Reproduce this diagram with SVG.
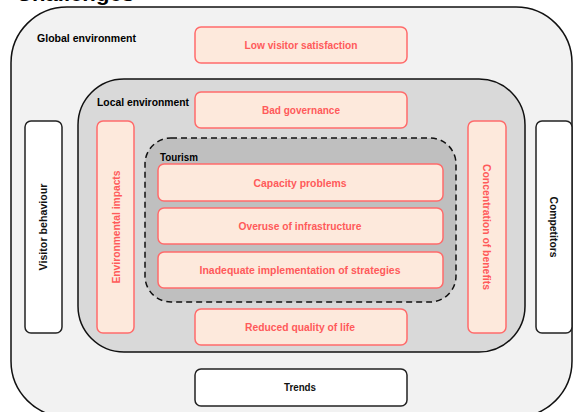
<svg xmlns="http://www.w3.org/2000/svg" width="573" height="412" viewBox="0 0 573 412">
<style>
text{font-family:"Liberation Sans",Arial,sans-serif;font-weight:bold;font-size:10.5px;dominant-baseline:central}
.lbl{fill:#000;text-anchor:start}
.red{fill:#ff5a5a;text-anchor:middle}
.blk{fill:#111;text-anchor:middle}
.pbox{fill:#fde9dc;stroke:#ff6b6b;stroke-width:1.5}
.wbox{fill:#fff;stroke:#222;stroke-width:1.5}
</style>
<rect width="573" height="412" fill="#fff"/>
<text x="16" y="1" style="font-size:21px;dominant-baseline:auto" textLength="118" lengthAdjust="spacingAndGlyphs">Challenges</text>
<g id="global">
<rect x="11" y="7" width="561" height="410" rx="56" fill="#f2f2f2" stroke="#111" stroke-width="1.5"/>
<text class="lbl" x="37" y="38" textLength="99" lengthAdjust="spacingAndGlyphs">Global environment</text>
</g>
<g id="local">
<rect x="78" y="79" width="447" height="273" rx="46" fill="#d9d9d9" stroke="#111" stroke-width="1.5"/>
<text class="lbl" x="97" y="102" textLength="92" lengthAdjust="spacingAndGlyphs">Local environment</text>
</g>
<g id="tourism">
<rect x="145" y="138" width="311" height="164" rx="26" fill="#bfbfbf" stroke="#111" stroke-width="1.5" stroke-dasharray="6,4"/>
<text class="lbl" x="160" y="157" textLength="38" lengthAdjust="spacingAndGlyphs">Tourism</text>
</g>
<g id="low-visitor-satisfaction">
<rect class="pbox" x="195" y="27" width="212" height="36" rx="6"/>
<text class="red" x="301" y="45" textLength="113" lengthAdjust="spacingAndGlyphs">Low visitor satisfaction</text>
</g>
<g id="bad-governance">
<rect class="pbox" x="195" y="92" width="212" height="36" rx="6"/>
<text class="red" x="301" y="110" textLength="78" lengthAdjust="spacingAndGlyphs">Bad governance</text>
</g>
<g id="capacity-problems">
<rect class="pbox" x="158" y="164" width="285" height="37" rx="6"/>
<text class="red" x="300" y="183" textLength="93" lengthAdjust="spacingAndGlyphs">Capacity problems</text>
</g>
<g id="overuse">
<rect class="pbox" x="158" y="208" width="285" height="36" rx="6"/>
<text class="red" x="300" y="226" textLength="123" lengthAdjust="spacingAndGlyphs">Overuse of infrastructure</text>
</g>
<g id="inadequate">
<rect class="pbox" x="158" y="252" width="285" height="36" rx="6"/>
<text class="red" x="300" y="270" textLength="201" lengthAdjust="spacingAndGlyphs">Inadequate implementation of strategies</text>
</g>
<g id="reduced-quality">
<rect class="pbox" x="195" y="309" width="212" height="36" rx="6"/>
<text class="red" x="300" y="327" textLength="110" lengthAdjust="spacingAndGlyphs">Reduced quality of life</text>
</g>
<g id="environmental-impacts">
<rect class="pbox" x="97" y="121" width="37" height="212" rx="6"/>
<text class="red" transform="translate(116 227) rotate(-90)" x="0" y="0" textLength="113" lengthAdjust="spacingAndGlyphs">Environmental impacts</text>
</g>
<g id="concentration-of-benefits">
<rect class="pbox" x="468" y="121" width="38" height="212" rx="6"/>
<text class="red" transform="translate(487 227) rotate(90)" x="0" y="0" textLength="126" lengthAdjust="spacingAndGlyphs">Concentration of benefits</text>
</g>
<g id="visitor-behaviour">
<rect class="wbox" x="25" y="121" width="37" height="212" rx="6"/>
<text class="blk" transform="translate(43 227) rotate(-90)" x="0" y="0" textLength="87" lengthAdjust="spacingAndGlyphs">Visitor behaviour</text>
</g>
<g id="competitors">
<rect class="wbox" x="536" y="121" width="36" height="212" rx="6"/>
<text class="blk" transform="translate(554 227) rotate(90)" x="0" y="0" textLength="61" lengthAdjust="spacingAndGlyphs">Competitors</text>
</g>
<g id="trends">
<rect class="wbox" x="195" y="369" width="212" height="37" rx="6"/>
<text class="blk" x="300" y="387" textLength="32" lengthAdjust="spacingAndGlyphs">Trends</text>
</g>
<g id="connectors"/>
</svg>
